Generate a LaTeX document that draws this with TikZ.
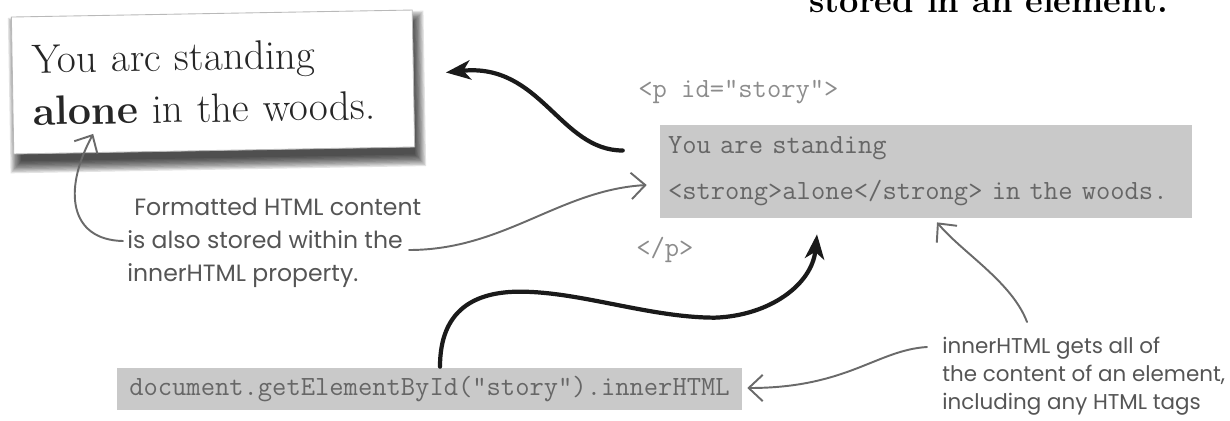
\documentclass[tikz,border=0pt]{standalone}
\usepackage{fontspec}
\newfontfamily\handfont{Poppins}
\usetikzlibrary{arrows.meta,positioning,calc,backgrounds}
\definecolor{boxgray}{HTML}{C9C9C9}
\definecolor{codeink}{HTML}{666666}
\definecolor{tagink}{HTML}{8C8C8C}
\definecolor{noteink}{HTML}{555555}
\definecolor{pen}{HTML}{1A1A1A}
\definecolor{pencil}{HTML}{6A6A6A}

\begin{document}
\begin{tikzpicture}[x=0.02cm, y=-0.02cm,
    paper/.style={rotate=1, minimum width=8.02cm, minimum height=2.74cm, inner xsep=0.4cm,
                  text width=7.22cm, align=left, fill=white, draw=gray!55, line width=0.5pt,
                  font=\fontsize{23.4}{29.6}\selectfont, text=black!85},
    codebox/.style={fill=boxgray, inner sep=0pt, text=codeink,
                    font=\ttfamily\fontsize{15.8}{26}\selectfont},
    tag/.style={anchor=west, inner sep=0pt, text=tagink, font=\ttfamily\fontsize{15.8}{16}\selectfont},
    note/.style={anchor=west, inner sep=0pt, align=left, text=noteink,
                 font=\handfont\fontsize{13.4}{18.8}\selectfont},
    heavy/.style={draw=pen, line width=2.4pt, line cap=round,
                  -{Stealth[length=14pt, width=11pt, inset=4pt]}},
    light/.style={draw=pencil, line width=1.1pt, line cap=round,
                  -{Straight Barb[length=8pt, width=15pt]}}
  ]
  \useasboundingbox (0,0) rectangle (1230,420);
  \clip (0,0) rectangle (1230,420);

  % heading cut off by the page edge
  \node[anchor=base west, inner sep=0pt, font=\bfseries\fontsize{19.6}{19.6}\selectfont] (heading)
    at (809,12) {stored in an element.};

  % the card as the browser shows it
  \node[paper] (card) at (213,82) {You arc standing\\\textbf{alone} in the woods.};
  \begin{scope}[on background layer]
    \foreach \k in {0,...,9}{
      \pgfmathsetmacro\sw{(394+2.4*\k)*0.02}
      \pgfmathsetmacro\sh{(132+2.6*\k)*0.02}
      \node[rotate=1, fill=black, fill opacity=0.11, inner sep=0pt,
            minimum width=\sw cm, minimum height=\sh cm] (shade\k) at ($(card.center)+(4,10)$) {};
    }
  \end{scope}

  % markup
  \node[tag] (popen) at (638,92) {<p id="story">};
  \node[codebox, minimum width=10.64cm, minimum height=1.86cm, inner xsep=0.16cm,
        text width=10.32cm, align=left] (story) at (926,171.5)
    {You are standing\\<strong>alone</strong> in the woods.};
  \node[tag] (pclose) at (636,250) {</p>};

  \node[codebox, minimum width=12.5cm, minimum height=0.84cm] (code) at (429.5,389)
    {document.getElementById("story").innerHTML};

  % notes
  \node[note] (htmlnote) at (127,243)
    {\hspace*{4pt}Formatted HTML content\\is also stored within the\\innerHTML property.};
  \node[note, font=\handfont\fontsize{12.2}{16}\selectfont] (innernote) at (942,376)
    {innerHTML gets all of\\the content of an element,\\including any HTML tags};

  % arrows
  \draw[heavy] ([shift={(-37,-21)}]story.west) .. controls +(-63,0) and +(95,-10) .. ([shift={(32,-6)}]card.east);
  \draw[heavy] ([shift={(10.5,-1)}]code.north) .. controls +(0,-57) and +(-45,0) .. ++(80,-75)
    .. controls +(60,0) and +(-65,0) .. ++(195,26)
    .. controls +(55,-2) and +(-5,50) .. ([shift={(-109,16)}]story.south);
  \draw[light] ([shift={(282,7)}]htmlnote.west) .. controls +(95,0) and +(-87,5) .. ([shift={(-13,13.5)}]story.west);
  \draw[light] ([shift={(-4,-2)}]htmlnote.west) .. controls +(-53,-1) and +(-31,57) .. ([shift={(-121,-17)}]card.south);
  \draw[light] ([shift={(85,-54)}]innernote.west) .. controls +(-15,-40) and +(25,30) .. ([shift={(11,4)}]story.south);
  \draw[light] ([shift={(-15,-29)}]innernote.west) .. controls +(-50,3) and +(100,0) .. ([shift={(5,-1)}]code.east);
\end{tikzpicture}
\end{document}
